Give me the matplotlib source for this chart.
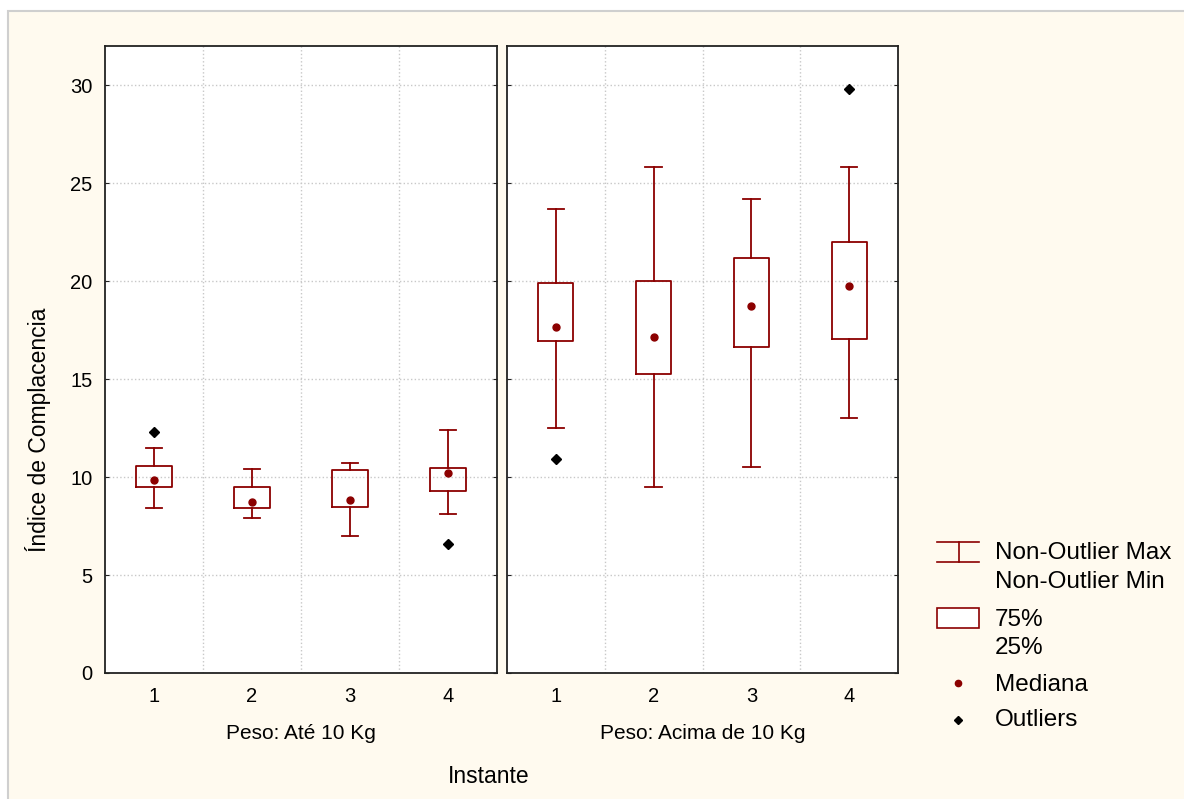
import matplotlib
matplotlib.use('Agg')
import matplotlib.pyplot as plt
from matplotlib.patches import Rectangle

plt.rcParams['font.family'] = ['Liberation Sans', 'DejaVu Sans']

instantes = [1, 2, 3, 4]
groups = ['Peso: Até 10 Kg', 'Peso: Acima de 10 Kg']

# five-number summaries per instante, one list per weight group
ate10_whishi = [11.5, 10.4, 10.7, 12.4]
ate10_q3 = [10.55, 9.5, 10.35, 10.45]
ate10_med = [9.85, 8.75, 8.85, 10.2]
ate10_q1 = [9.5, 8.4, 8.45, 9.3]
ate10_whislo = [8.4, 7.9, 7.0, 8.1]
ate10_fliers = [[12.3], [], [], [6.6]]

acima10_whishi = [23.7, 25.8, 24.2, 25.8]
acima10_q3 = [19.9, 20.0, 21.2, 22.0]
acima10_med = [17.65, 17.15, 18.75, 19.75]
acima10_q1 = [16.95, 15.25, 16.65, 17.05]
acima10_whislo = [12.5, 9.5, 10.5, 13.0]
acima10_fliers = [[10.9], [], [], [29.8]]

yticks = [0, 5, 10, 15, 20, 25, 30]

W, H = 1184, 799
darkred = '#8b0000'
cream = '#fffaef'


def px(x0, y0, x1, y1):
    # pixel box (top-left origin) -> figure fraction rect
    return [x0 / W, (H - y1) / H, (x1 - x0) / W, (y1 - y0) / H]


def stats(whishi, q3, med, q1, whislo, fliers):
    return [dict(whishi=a, q3=b, med=c, q1=d, whislo=e, fliers=f)
            for a, b, c, d, e, f in zip(whishi, q3, med, q1, whislo, fliers)]


fig = plt.figure(figsize=(W / 100, H / 100), dpi=100, facecolor='white')
fig.patches.append(Rectangle((8 / W, -0.05), 1.1, (H - 11) / H + 0.05,
                             transform=fig.transFigure, facecolor=cream,
                             edgecolor='#cfcfcf', lw=1.5, zorder=-10))

ax1 = fig.add_axes(px(105, 46, 497, 673))
ax2 = fig.add_axes(px(507, 46, 898, 673), sharey=ax1)

panels = [
    (ax1, stats(ate10_whishi, ate10_q3, ate10_med, ate10_q1, ate10_whislo, ate10_fliers), ate10_med),
    (ax2, stats(acima10_whishi, acima10_q3, acima10_med, acima10_q1, acima10_whislo, acima10_fliers), acima10_med),
]

for (ax, st, med), title in zip(panels, groups):
    ax.set_facecolor('white')
    ax.bxp(st, positions=instantes, widths=0.36, capwidths=0.17,
           boxprops=dict(color=darkred, lw=1.3),
           whiskerprops=dict(color=darkred, lw=1.3),
           capprops=dict(color=darkred, lw=1.3),
           medianprops=dict(linestyle='none'),
           flierprops=dict(marker='D', markersize=5, markerfacecolor='black',
                           markeredgecolor='black'),
           zorder=3)
    ax.plot(instantes, med, 'o', color=darkred, markersize=5, zorder=4)

    ax.set_xlim(0.5, 4.5)
    ax.set_ylim(0, 32)
    ax.set_xticks(instantes)
    ax.set_xticks([1.5, 2.5, 3.5], minor=True)
    ax.set_yticks(yticks)
    ax.grid(which='minor', axis='x', color='#c8c8c8', ls=':', lw=1)
    ax.grid(which='major', axis='y', color='#c8c8c8', ls=':', lw=1)
    ax.set_axisbelow(True)
    ax.tick_params(axis='x', which='both', length=0, pad=10, labelsize=14.5)
    ax.tick_params(axis='y', direction='in', length=3, left=True, right=True,
                   pad=9, labelsize=14.5, color='#222222')
    for sp in ax.spines.values():
        sp.set_color('#222222')
        sp.set_linewidth(1.3)
    cx = (ax.get_position().x0 + ax.get_position().x1) / 2
    fig.text(cx, (H - 739) / H, title, ha='center', va='baseline', fontsize=15)

ax2.tick_params(axis='y', labelleft=False)

fig.text(489 / W, (H - 783) / H, 'Instante', ha='center', va='baseline', fontsize=16.5)
fig.text(38 / W, (H - 430) / H, 'Índice de Complacencia', ha='center', va='center',
         rotation=90, fontsize=16.5)

# legend panel drawn in pixel coordinates
lg = fig.add_axes(px(920, 520, 1184, 740))
lg.set_xlim(920, 1184)
lg.set_ylim(740, 520)
lg.axis('off')
lg.plot([937, 979], [542, 542], color=darkred, lw=1.2)
lg.plot([937, 979], [562, 562], color=darkred, lw=1.2)
lg.plot([959, 959], [542, 562], color=darkred, lw=1.2)
lg.add_patch(Rectangle((937, 608), 42, 20, facecolor='white', edgecolor=darkred, lw=1.2))
lg.plot([958], [683], 'o', color=darkred, markersize=4.5)
lg.plot([958], [720], 'D', color='black', markersize=4.5)
legend_texts = [('Non-Outlier Max', 553), ('Non-Outlier Min', 582),
                ('75%', 620), ('25%', 648), ('Mediana', 685), ('Outliers', 720)]
for txt, y in legend_texts:
    lg.text(995, y, txt, ha='left', va='center', fontsize=17.5)

fig.savefig('out.png', dpi=100, facecolor=fig.get_facecolor())
